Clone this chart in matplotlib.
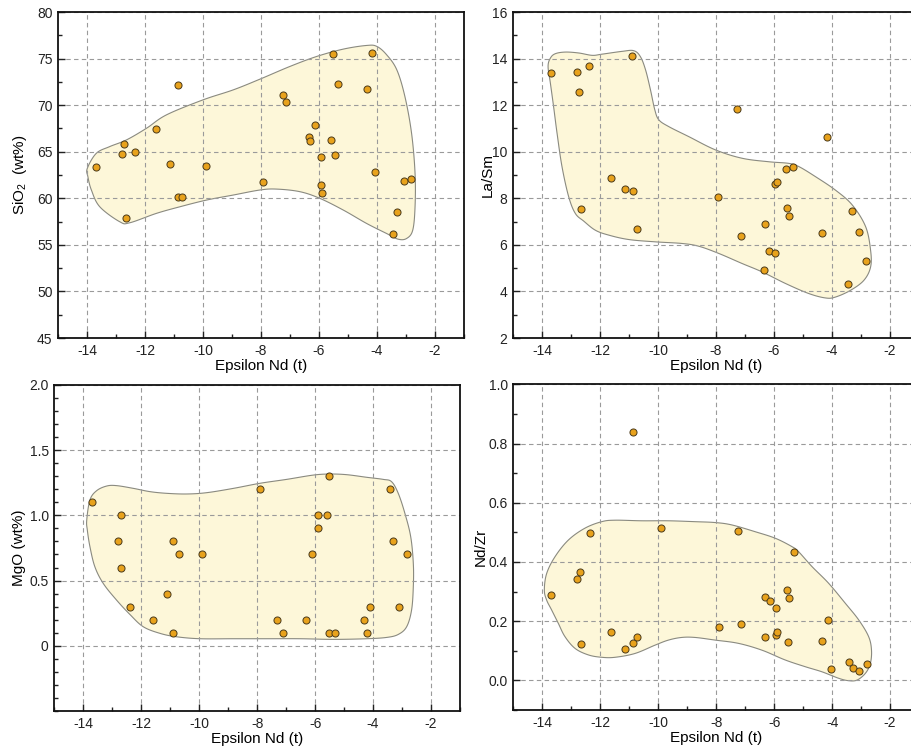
import numpy as np
import matplotlib
matplotlib.use("Agg")
import matplotlib.pyplot as plt
from matplotlib.ticker import MultipleLocator, FixedLocator, FixedFormatter

plt.rcParams['font.family'] = ['Liberation Sans', 'DejaVu Sans']
plt.rcParams['mathtext.fontset'] = 'custom'
plt.rcParams['mathtext.rm'] = 'Liberation Sans'
plt.rcParams['mathtext.default'] = 'regular'
plt.rcParams['axes.unicode_minus'] = False

# ---------------- data ----------------
# Panel A: SiO2 vs eNd(t)
sio2_x = [-13.69, -12.71, -12.79, -12.35, -12.65, -11.62, -10.88, -11.14, -10.87, -10.72,
          -9.89, -7.93, -7.26, -7.14, -6.15, -6.34, -6.30, -5.58, -5.46, -5.94, -5.95,
          -5.90, -5.53, -5.34, -4.16, -4.35, -4.06, -3.30, -3.44, -3.08, -2.82]
sio2_y = [63.40, 65.80, 64.72, 64.97, 57.84, 67.45, 72.18, 63.72, 60.17, 60.10,
          63.50, 61.71, 71.14, 70.39, 67.84, 66.55, 66.19, 66.30, 64.69, 64.44, 61.39,
          60.56, 75.52, 72.29, 75.59, 71.75, 62.86, 58.48, 56.12, 61.82, 62.11]
sio2_env_x = [-13.99, -13.68, -13.22, -12.64, -11.95, -11.26, -10.00, -8.96, -8.04, -7.01,
              -6.08, -5.16, -4.36, -4.01, -3.67, -3.32, -3.04, -2.81, -2.69, -2.69, -2.77,
              -2.98, -3.27, -3.67, -4.36, -5.16, -5.97, -6.66, -7.47, -8.04, -8.96, -9.88,
              -10.80, -11.61, -12.53, -12.87, -13.56, -13.85, -13.97]
sio2_env_y = [63.22, 64.83, 65.55, 66.27, 67.52, 68.96, 70.57, 71.64, 72.79, 74.15,
              75.23, 76.02, 76.41, 76.31, 75.41, 73.80, 70.93, 66.98, 62.68, 59.09, 56.58,
              55.69, 55.61, 56.22, 57.30, 58.73, 59.99, 60.71, 60.99, 60.89, 60.35, 59.81,
              59.09, 58.38, 57.37, 57.48, 59.09, 60.89, 62.32]

# Panel B: La/Sm vs eNd(t)
lasm_x = [-13.69, -12.78, -12.37, -12.71, -10.88, -12.65, -11.63, -11.15, -10.87, -10.72,
          -7.93, -7.26, -7.14, -6.31, -6.18, -5.95, -6.36, -5.97, -5.91, -5.59, -5.36,
          -5.54, -5.48, -4.18, -4.35, -3.31, -3.08, -2.83, -3.45]
lasm_y = [13.36, 13.42, 13.68, 12.57, 14.09, 7.52, 8.86, 8.40, 8.30, 6.70,
          8.07, 11.83, 6.40, 6.89, 5.74, 5.67, 4.91, 8.60, 8.68, 9.24, 9.36,
          7.59, 7.25, 10.62, 6.53, 7.46, 6.56, 5.31, 4.34]
lasm_env_x = [-13.79, -13.71, -13.54, -13.19, -12.73, -12.27, -11.93, -11.24, -10.84, -10.61,
              -10.43, -10.26, -10.11, -9.97, -9.63, -8.94, -8.02, -7.10, -6.18, -5.49,
              -5.14, -4.57, -3.88, -3.30, -2.84, -2.67, -2.67, -2.90, -3.36, -3.88, -4.22,
              -4.80, -5.60, -6.41, -7.10, -7.90, -8.59, -9.17, -10.09, -11.01, -11.70,
              -12.16, -12.56, -12.85, -13.08, -13.31, -13.48, -13.60, -13.71]
lasm_env_y = [13.66, 14.02, 14.21, 14.28, 14.24, 14.14, 14.19, 14.31, 14.34, 14.09,
              13.52, 12.66, 11.80, 11.37, 11.08, 10.65, 10.08, 9.72, 9.57, 9.50,
              9.36, 8.93, 8.35, 7.71, 6.78, 5.77, 5.05, 4.48, 4.05, 3.76, 3.72,
              3.91, 4.34, 4.84, 5.20, 5.63, 5.94, 6.06, 6.13, 6.23, 6.42,
              6.63, 7.02, 7.35, 8.07, 9.36, 10.79, 11.94, 12.94]

# Panel C: MgO vs eNd(t)
mgo_x = [-13.69, -12.69, -12.80, -12.69, -12.39, -11.60, -11.10, -10.91, -10.89, -10.70,
         -9.91, -7.90, -7.32, -7.11, -6.31, -6.11, -5.91, -5.91, -5.60, -5.51, -5.52,
         -5.30, -4.31, -4.21, -4.12, -3.40, -3.30, -3.10, -2.82]
mgo_y = [1.1, 1.0, 0.8, 0.6, 0.3, 0.2, 0.4, 0.8, 0.1, 0.7,
         0.7, 1.2, 0.2, 0.1, 0.2, 0.7, 1.0, 0.9, 1.0, 1.3, 0.1,
         0.1, 0.2, 0.1, 0.3, 1.2, 0.8, 0.3, 0.7]
mgo_env_x = [-13.88, -13.77, -13.54, -13.19, -12.85, -12.27, -11.70, -11.12, -10.43, -9.74,
             -8.82, -7.90, -6.98, -6.06, -5.49, -4.91, -4.22, -3.65, -3.36, -3.13, -2.90,
             -2.70, -2.61, -2.61, -2.67, -2.84, -3.13, -3.53, -4.22, -5.37, -6.52, -7.67,
             -8.82, -9.97, -10.78, -11.35, -11.93, -12.39, -12.85, -13.31, -13.60, -13.77,
             -13.86]
mgo_env_y = [0.964, 1.118, 1.189, 1.225, 1.228, 1.207, 1.182, 1.169, 1.164, 1.174,
             1.207, 1.246, 1.276, 1.309, 1.317, 1.312, 1.292, 1.276, 1.258, 1.169, 1.015,
             0.836, 0.632, 0.453, 0.274, 0.146, 0.087, 0.064, 0.054, 0.049, 0.054, 0.054,
             0.054, 0.054, 0.069, 0.095, 0.146, 0.240, 0.350, 0.478, 0.606, 0.760,
             0.887]

# Panel D: Nd/Zr vs eNd(t)
ndzr_x = [-13.69, -12.71, -12.79, -12.36, -12.65, -11.62, -10.88, -11.14, -10.87, -10.72,
          -9.90, -7.92, -7.25, -7.15, -6.32, -6.30, -6.13, -5.94, -5.95, -5.89, -5.57,
          -5.47, -5.52, -5.33, -4.15, -4.34, -4.05, -3.43, -3.29, -3.06, -2.81]
ndzr_y = [0.288, 0.365, 0.341, 0.499, 0.124, 0.162, 0.839, 0.106, 0.127, 0.148,
          0.516, 0.181, 0.506, 0.189, 0.145, 0.282, 0.267, 0.245, 0.153, 0.164, 0.304,
          0.279, 0.128, 0.432, 0.203, 0.133, 0.037, 0.063, 0.041, 0.033, 0.057]
ndzr_env_x = [-13.93, -13.85, -13.56, -13.10, -12.53, -11.95, -11.49, -10.57, -9.65, -8.73,
              -8.03, -7.46, -6.65, -5.96, -5.39, -5.16, -4.69, -4.12, -3.54, -3.08, -2.74,
              -2.64, -2.68, -2.85, -3.14, -3.43, -3.77, -4.35, -4.92, -5.62, -6.42, -7.23,
              -8.03, -8.73, -9.19, -9.65, -10.11, -10.80, -11.49, -11.95, -12.41, -12.87,
              -13.22, -13.45, -13.68, -13.85]
ndzr_env_y = [0.305, 0.361, 0.418, 0.474, 0.514, 0.536, 0.541, 0.539, 0.539, 0.536,
              0.533, 0.525, 0.502, 0.480, 0.452, 0.435, 0.384, 0.328, 0.260, 0.204, 0.148,
              0.102, 0.057, 0.024, 0.001, -0.001, 0.007, 0.029, 0.046, 0.069, 0.102, 0.125,
              0.136, 0.145, 0.145, 0.136, 0.119, 0.091, 0.078, 0.078, 0.086, 0.108,
              0.148, 0.193, 0.238, 0.271]

x_ticks = [-14, -12, -10, -8, -6, -4, -2]
x_ticklabels = ['-14', '-12', '-10', '-8', '-6', '-4', '-2']
x_label = 'Epsilon Nd (t)'

# ---------------- drawing ----------------
MARKER_FC = '#E8A21C'
MARKER_EC = '#4a3a1a'
FILL_C = '#FDF7D9'
EDGE_C = '#8a8a80'


def closed_catmull_rom(xs, ys, n=20):
    p = np.column_stack([xs, ys])
    m = len(p)
    t = np.linspace(0, 1, n, endpoint=False)[:, None]
    out = []
    for i in range(m):
        p0, p1, p2, p3 = p[i - 1], p[i], p[(i + 1) % m], p[(i + 2) % m]
        seg = 0.5 * ((2 * p1) + (-p0 + p2) * t + (2 * p0 - 5 * p1 + 4 * p2 - p3) * t ** 2
                     + (-p0 + 3 * p1 - 3 * p2 + p3) * t ** 3)
        out.append(seg)
    out = np.vstack(out)
    out = np.vstack([out, out[:1]])
    return out[:, 0], out[:, 1]


fig = plt.figure(figsize=(9.11, 7.51), dpi=100)

panels = [
    dict(rect=[0.0637, 0.5499, 0.4457, 0.4341], x=sio2_x, y=sio2_y, ex=sio2_env_x, ey=sio2_env_y,
         ylim=(45, 80), major=[45, 50, 55, 60, 65, 70, 75, 80], labels=['45', '50', '55', '60', '65', '70', '75', '80'],
         minor=2.5, ylabel=r'SiO$_{2}$  (wt%)', lab_x=-0.072),
    dict(rect=[0.5631, 0.5499, 0.4457, 0.4341], x=lasm_x, y=lasm_y, ex=lasm_env_x, ey=lasm_env_y,
         ylim=(2, 16), major=[2, 4, 6, 8, 10, 12, 14, 16], labels=['2', '4', '6', '8', '10', '12', '14', '16'],
         minor=1, ylabel='La/Sm', lab_x=-0.045),
    dict(rect=[0.0596, 0.0533, 0.4453, 0.4341], x=mgo_x, y=mgo_y, ex=mgo_env_x, ey=mgo_env_y,
         ylim=(-0.5, 2.0), major=[0, 0.5, 1.0, 1.5, 2.0], labels=['0', '0.5', '1.0', '1.5', '2.0'],
         minor=0.1, ylabel='MgO (wt%)', lab_x=-0.070),
    dict(rect=[0.5635, 0.0546, 0.4453, 0.4337], x=ndzr_x, y=ndzr_y, ex=ndzr_env_x, ey=ndzr_env_y,
         ylim=(-0.1, 1.0), major=[0.0, 0.2, 0.4, 0.6, 0.8, 1.0], labels=['0.0', '0.2', '0.4', '0.6', '0.8', '1.0'],
         minor=0.1, ylabel='Nd/Zr', lab_x=-0.062),
]

for p in panels:
    ax = fig.add_axes(p['rect'])
    ax.set_xlim(-15, -1)
    ax.set_ylim(*p['ylim'])
    sx, sy = closed_catmull_rom(p['ex'], p['ey'])
    ax.fill(sx, sy, facecolor=FILL_C, edgecolor=EDGE_C, linewidth=0.8, zorder=1)
    ax.scatter(p['x'], p['y'], s=26, facecolor=MARKER_FC, edgecolor=MARKER_EC,
               linewidth=0.7, zorder=3)

    ax.xaxis.set_major_locator(FixedLocator(x_ticks))
    ax.xaxis.set_major_formatter(FixedFormatter(x_ticklabels))
    ax.xaxis.set_minor_locator(MultipleLocator(1))
    ax.yaxis.set_major_locator(FixedLocator(p['major']))
    ax.yaxis.set_major_formatter(FixedFormatter(p['labels']))
    ax.yaxis.set_minor_locator(MultipleLocator(p['minor']))

    ax.tick_params(which='both', direction='in', top=False, right=False,
                   labelsize=10, colors='#222222', width=1.0)
    ax.tick_params(which='major', length=5, pad=4)
    ax.tick_params(which='minor', length=3)
    ax.grid(True, which='major', linestyle=(0, (4, 3)), color='#9a9a9a', linewidth=0.8)
    for s in ax.spines.values():
        s.set_linewidth(1.3)
        s.set_color('#111111')

    ax.set_xlabel(x_label, fontsize=11, labelpad=1)
    ax.set_ylabel(p['ylabel'], fontsize=11)
    ax.yaxis.set_label_coords(p['lab_x'], 0.5)

fig.savefig('out.png', dpi=100)
